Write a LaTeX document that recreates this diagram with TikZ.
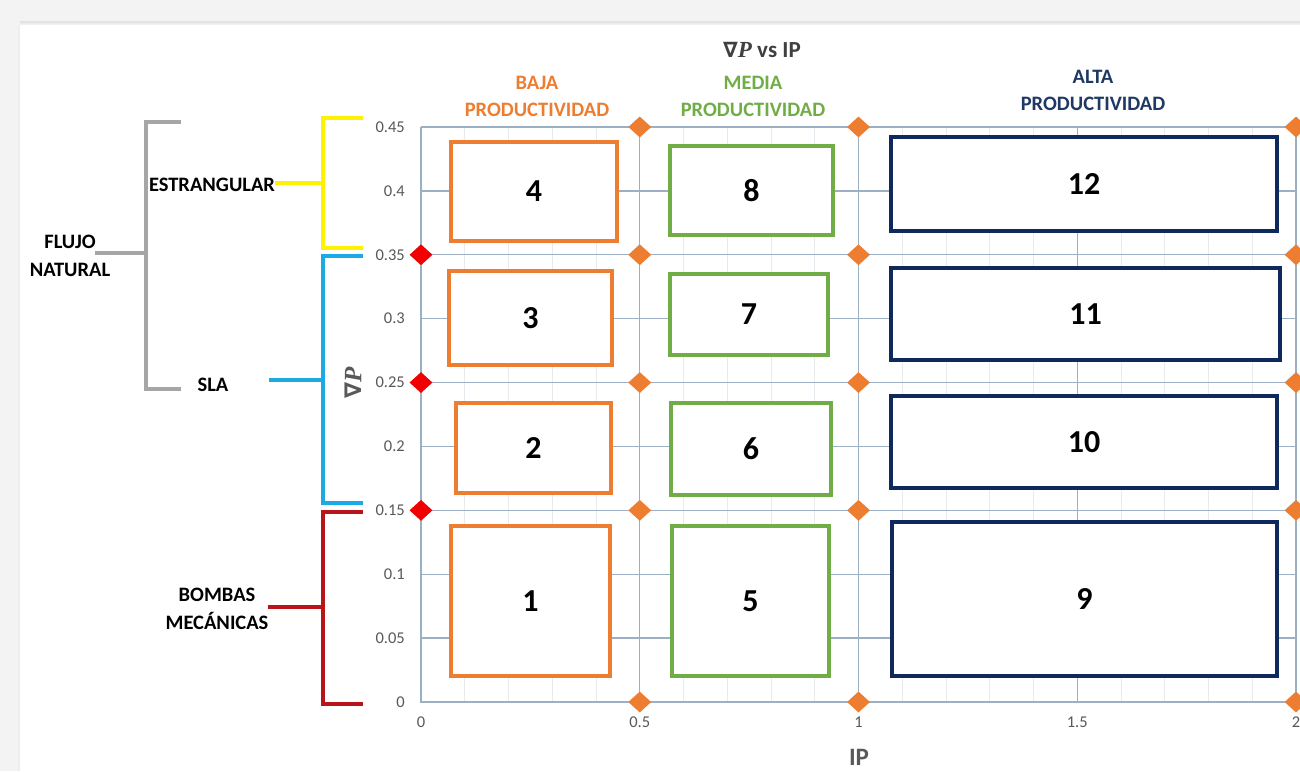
\documentclass[tikz,border=0pt]{standalone}
\usepackage{fontspec}
\setmainfont{Carlito}
\newfontfamily\nablafont{DejaVu Sans}
\newfontfamily\varfont{Liberation Serif}
\usetikzlibrary{shapes.geometric}

\definecolor{frame}{HTML}{F3F3F3}
\definecolor{gridmajor}{HTML}{9DB0C3}
\definecolor{gridminor}{HTML}{E6EBF0}
\definecolor{labelgray}{HTML}{595959}
\definecolor{titlegray}{HTML}{404040}
\definecolor{lowcol}{HTML}{ED7D31}
\definecolor{midcol}{HTML}{70AD47}
\definecolor{highcol}{HTML}{0E2A5C}
\definecolor{highlabel}{HTML}{1F3864}
\definecolor{brgray}{HTML}{A6A6A6}
\definecolor{bryellow}{HTML}{FFF200}
\definecolor{brblue}{HTML}{1CAAE6}
\definecolor{brred}{HTML}{B81419}
\definecolor{markred}{HTML}{F00000}

% pressure-gradient symbol, bold nabla followed by bold italic P
\newcommand{\gradP}{{\nablafont\bfseries\scalebox{0.92}{∇}}{\varfont\bfseries\itshape P}}

\tikzset{
  zonebox/.style={draw, fill=white, line width=4.2pt, inner sep=0pt,
    font=\fontsize{32}{36}\selectfont\bfseries, text=black},
  lowbox/.style={zonebox, draw=lowcol},
  midbox/.style={zonebox, draw=midcol},
  highbox/.style={zonebox, draw=highcol},
  bracket/.style={line width=4.5pt},
  sidelabel/.style={font=\fontsize{20.5}{28}\selectfont\bfseries, align=center, inner sep=0pt, text=black},
  catlabel/.style={font=\fontsize{20.5}{27}\selectfont\bfseries, align=center, inner sep=0pt},
  ticklabel/.style={font=\fontsize{16.5}{18}\selectfont, text=labelgray, inner sep=0pt},
  axistitle/.style={font=\fontsize{25}{28}\selectfont\bfseries, text=labelgray, inner sep=0pt},
  limitmark/.style={diamond, draw=none, inner sep=0pt, minimum width=23pt, minimum height=21pt},
  orangemark/.style={limitmark, fill=lowcol},
  redmark/.style={limitmark, fill=markred},
}

\begin{document}
\begin{tikzpicture}[x=1pt, y=-1pt]
\useasboundingbox (0,0) rectangle (1300,771);

% page frame and card
\fill[frame] (0,0) rectangle (1300,771);
\fill[white] (20,25) rectangle (1300,771);
\foreach \yy/\cc in {21/12,22/10,23/8,24/6} \fill[black!\cc] (20,\yy) rectangle (1300,\yy+1);
\fill[black!7] (18,25) rectangle (20,771);

% chart area in data units
\begin{scope}[shift={(421,702)}, x=437.5pt, y=1277.8pt]
  \foreach \v in {0.1,0.2,0.3,0.4,0.6,0.7,0.8,0.9,1.1,1.2,1.3,1.4,1.6,1.7,1.8,1.9}
    \draw[gridminor, line width=0.8pt] (\v,0) -- (\v,0.45);
  \foreach \v in {0.05,0.1,0.15,0.2,0.25,0.3,0.35,0.4,0.45}
    \draw[gridmajor, line width=1.3pt] (0,\v) -- (2,\v);
  \foreach \v in {0.5,1,1.5,2}
    \draw[gridmajor, line width=1.3pt] (\v,0) -- (\v,0.45);
  \draw[gridmajor, line width=1.5pt] (0,0.45) -- (0,0) -- (2,0);

  % axis numbers
  \foreach \v/\t [count=\k] in {0/0,0.05/0.05,0.1/0.1,0.15/0.15,0.2/0.2,0.25/0.25,0.3/0.3,0.35/0.35,0.4/0.4,0.45/0.45}
    \node[ticklabel, anchor=east] (ytick\k) at ([xshift=-16pt]0,\v) {\t};
  \foreach \v/\t [count=\k] in {0/0,0.5/0.5,1/1,1.5/1.5,2/2}
    \node[ticklabel, anchor=north] (xtick\k) at ([yshift=-15pt]\v,0) {\t};

  % limit markers
  \foreach \xv [count=\i] in {0.5,1,2}
    \foreach \yv [count=\j] in {0,0.15,0.25,0.35,0.45}
      \node[orangemark] (om\i\j) at (\xv,\yv) {};
  \foreach \yv [count=\j] in {0.15,0.25,0.35}
    \node[redmark] (rm\j) at (0,\yv) {};
\end{scope}

% zones
\node[lowbox, minimum width=166pt, minimum height=99pt] (z4) at (534,191.5) {4};
\node[lowbox, minimum width=163pt, minimum height=94pt] (z3) at (530.5,318) {3};
\node[lowbox, minimum width=155pt, minimum height=90pt] (z2) at (533.5,448) {2};
\node[lowbox, minimum width=159pt, minimum height=150pt] (z1) at (530.5,601) {1};
\node[midbox, minimum width=163pt, minimum height=89pt] (z8) at (751.5,190.5) {8};
\node[midbox, minimum width=158pt, minimum height=81pt] (z7) at (749,314.5) {7};
\node[midbox, minimum width=160pt, minimum height=92pt] (z6) at (751,449) {6};
\node[midbox, minimum width=157pt, minimum height=150pt] (z5) at (750.5,601) {5};
\node[highbox, minimum width=386pt, minimum height=94pt] (z12) at (1084,184) {12};
\node[highbox, minimum width=389pt, minimum height=92pt] (z11) at (1085.5,314) {11};
\node[highbox, minimum width=386pt, minimum height=92pt] (z10) at (1084,442) {10};
\node[highbox, minimum width=385pt, minimum height=154pt] (z9) at (1084.5,599) {9};

% titles
\node[font=\fontsize{23}{25}\selectfont\bfseries, text=titlegray, inner sep=0pt] (title) at (762,50)
  {\gradP{} vs IP};
\node[catlabel, text=lowcol] (cat-low) at (537,96) {BAJA\\PRODUCTIVIDAD};
\node[catlabel, text=midcol] (cat-mid) at (753,96) {MEDIA\\PRODUCTIVIDAD};
\node[catlabel, text=highlabel] (cat-high) at (1093,90) {ALTA\\PRODUCTIVIDAD};
\node[axistitle] (xtitle) at (859,757) {IP};
\node[axistitle, rotate=90] (ytitle) at (353,383) {\gradP};

% lift methods
\node[sidelabel] (flujo) at (70,256) {FLUJO\\NATURAL};
\node[sidelabel] (estr) at (212,185) {ESTRANGULAR};
\node[sidelabel] (sla) at (213,385) {SLA};
\node[sidelabel] (bombas) at (217,609) {BOMBAS\\MECÁNICAS};

% gray bracket
\coordinate (g-mid) at (146,253);
\coordinate (g-in) at (95,253);
\draw[bracket, brgray] (181,122) -- (146,122) -- (146,389) -- (181,389);
\draw[bracket, brgray] (g-in) -- (g-mid);

% yellow bracket
\coordinate (y-mid) at (323,183);
\draw[bracket, bryellow] (363,118) -- (323,118) -- (323,248) -- (363,248);
\draw[bracket, bryellow] (estr.east |- y-mid) -- (y-mid);

% blue bracket
\coordinate (b-mid) at (323,380);
\coordinate (b-in) at (269,380);
\draw[bracket, brblue] (363,256) -- (323,256) -- (323,503) -- (363,503);
\draw[bracket, brblue] (b-in) -- (b-mid);

% red bracket
\coordinate (r-mid) at (323,607);
\coordinate (r-in) at (268,607);
\draw[bracket, brred] (363,512) -- (323,512) -- (323,704) -- (363,704);
\draw[bracket, brred] (r-in) -- (r-mid);
\end{tikzpicture}
\end{document}
